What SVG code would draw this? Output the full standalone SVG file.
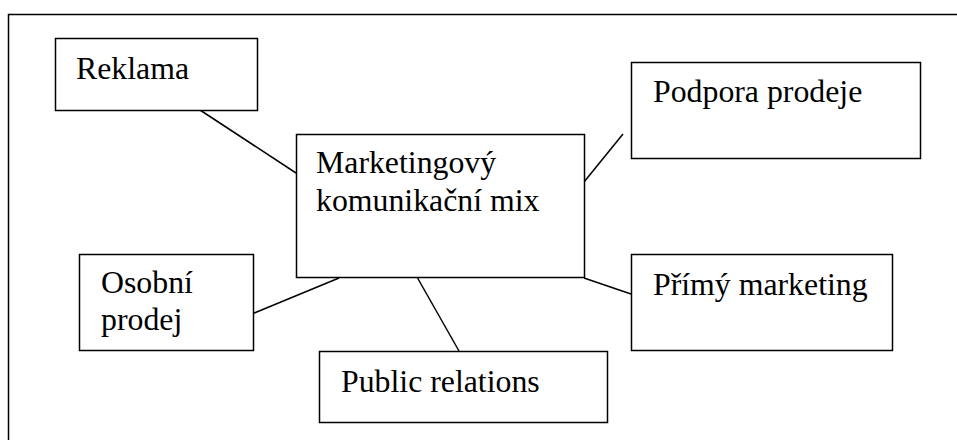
<svg xmlns="http://www.w3.org/2000/svg" width="957" height="440" viewBox="0 0 957 440">
<style>
.box{fill:#fff;stroke:#000;stroke-width:1.5}
.lbl{font-family:"Liberation Serif","Times New Roman",serif;font-size:31.8px;fill:#000}
.con line{stroke:#000;stroke-width:1.5}
.frame{fill:none;stroke:#000;stroke-width:1.5}
</style>
<rect width="957" height="440" fill="#fff"/>
<path class="frame" d="M8.5 440 V14.5 H957"/>
<g id="connectors" class="con">
<line x1="200" y1="110" x2="296" y2="173"/>
<line x1="584" y1="182" x2="623" y2="134"/>
<line x1="247" y1="316" x2="339" y2="278"/>
<line x1="417" y1="277" x2="459" y2="351"/>
<line x1="584" y1="278" x2="631" y2="294"/>
</g>
<g id="reklama">
<rect class="box" x="55.5" y="38.5" width="202" height="72"/>
<text class="lbl" x="76" y="79">Reklama</text>
</g>
<g id="podpora">
<rect class="box" x="631.5" y="62.5" width="289" height="96"/>
<text class="lbl" x="653" y="102">Podpora prodeje</text>
</g>
<g id="mix">
<rect class="box" x="296.5" y="134.5" width="288" height="143"/>
<text class="lbl" x="316" y="173">Marketingový</text>
<text class="lbl" x="316" y="211">komunikační mix</text>
</g>
<g id="osobni">
<rect class="box" x="79.5" y="254.5" width="174" height="96"/>
<text class="lbl" x="101" y="293">Osobní</text>
<text class="lbl" x="101" y="330">prodej</text>
</g>
<g id="primy">
<rect class="box" x="631.5" y="254.5" width="261" height="96"/>
<text class="lbl" x="653" y="295">Přímý marketing</text>
</g>
<g id="public">
<rect class="box" x="319.5" y="351.5" width="288" height="71"/>
<text class="lbl" x="341" y="392">Public relations</text>
</g>
</svg>
